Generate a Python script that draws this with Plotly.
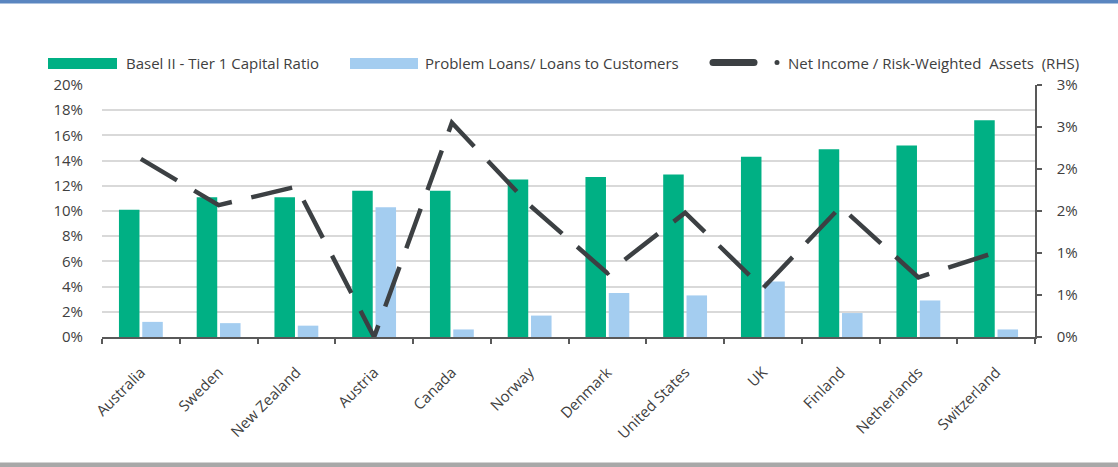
import plotly.graph_objects as go

# ---------------- data ----------------
countries = ["Australia", "Sweden", "New Zealand", "Austria", "Canada", "Norway",
             "Denmark", "United States", "UK", "Finland", "Netherlands", "Switzerland"]
tier1_ratio = [10.1, 11.1, 11.1, 11.6, 11.6, 12.5, 12.7, 12.9, 14.3, 14.9, 15.2, 17.2]
problem_loans = [1.2, 1.1, 0.9, 10.3, 0.6, 1.7, 3.5, 3.3, 4.4, 1.9, 2.9, 0.6]
net_income_rwa = [2.12, 1.57, 1.79, 0.0, 2.55, 1.57, 0.76, 1.48, 0.58, 1.55, 0.71, 1.01]

left_tick_vals = [0, 2, 4, 6, 8, 10, 12, 14, 16, 18, 20]
left_tick_labels = ["0%", "2%", "4%", "6%", "8%", "10%", "12%", "14%", "16%", "18%", "20%"]
right_tick_vals = [0, 0.5, 1, 1.5, 2, 2.5, 3]
right_tick_labels = ["0%", "1%", "1%", "2%", "2%", "3%", "3%"]

series_names = ["Basel II - Tier 1 Capital Ratio",
                "Problem Loans/ Loans to Customers",
                "Net Income / Risk-Weighted  Assets  (RHS)"]

# ---------------- style ----------------
W, H = 1118, 467
ML, MR, MT, MB = 102, 83, 85, 130
PW, PH = W - ML - MR, H - MT - MB
GREEN = "#00B084"
BLUE = "#A4CDF0"
DARK = "#3C4043"
TEXT = "#404040"
FONT = "Open Sans"


def px_x(px):
    return (px - ML) / PW


def px_y(py):
    return (H - MB - py) / PH


fig = go.Figure()
fig.add_trace(go.Bar(x=countries, y=tier1_ratio, name=series_names[0],
                     marker=dict(color=GREEN, line=dict(width=0)), showlegend=False))
fig.add_trace(go.Bar(x=countries, y=problem_loans, name=series_names[1],
                     marker=dict(color=BLUE, line=dict(width=0)), showlegend=False))
fig.add_trace(go.Scatter(x=countries, y=net_income_rwa, name=series_names[2], yaxis="y2",
                         mode="lines", line=dict(color=DARK, width=4.5, dash="42px,20px"),
                         showlegend=False))

shapes = []
# frame bands
shapes.append(dict(type="rect", xref="paper", yref="paper", x0=px_x(0), x1=px_x(W),
                   y0=px_y(3.5), y1=px_y(0), fillcolor="#5A86C0", line=dict(width=0), layer="above"))
shapes.append(dict(type="rect", xref="paper", yref="paper", x0=px_x(0), x1=px_x(W),
                   y0=px_y(H), y1=px_y(462.5), fillcolor="#A8A8A8", line=dict(width=0), layer="above"))
# legend swatches
shapes.append(dict(type="rect", xref="paper", yref="paper", x0=px_x(48), x1=px_x(117),
                   y0=px_y(69), y1=px_y(58), fillcolor=GREEN, line=dict(width=0)))
shapes.append(dict(type="rect", xref="paper", yref="paper", x0=px_x(350), x1=px_x(418),
                   y0=px_y(69), y1=px_y(58), fillcolor=BLUE, line=dict(width=0)))
shapes.append(dict(type="line", xref="paper", yref="paper", x0=px_x(713), x1=px_x(754),
                   y0=px_y(62.5), y1=px_y(62.5), line=dict(color=DARK, width=7)))
for cx, r in [(713, 3.5), (754, 3.5), (777, 2.5)]:
    shapes.append(dict(type="circle", xref="paper", yref="paper",
                       x0=px_x(cx - r), x1=px_x(cx + r), y0=px_y(62.5 + r), y1=px_y(62.5 - r),
                       fillcolor=DARK, line=dict(width=0)))

annotations = []
for name, xpx in zip(series_names, [124, 423, 786]):
    annotations.append(dict(text=name, xref="paper", yref="paper", x=px_x(xpx), y=px_y(63),
                            xanchor="left", yanchor="middle", showarrow=False,
                            font=dict(family=FONT, size=15, color=TEXT)))

fig.update_layout(
    width=W, height=H,
    margin=dict(l=ML, r=MR, t=MT, b=MB, pad=0),
    paper_bgcolor="white", plot_bgcolor="white",
    font=dict(family=FONT, size=15, color=TEXT),
    barmode="group", bargap=0.40, bargroupgap=0.12,
    showlegend=False,
    shapes=shapes, annotations=annotations,
    xaxis=dict(type="category", tickson="boundaries", ticks="outside", ticklen=5,
               tickcolor="#595959", tickwidth=1.5, showline=True, linecolor="#595959",
               linewidth=1.5, tickangle=-45, showgrid=False, ticklabelstandoff=19,
               tickfont=dict(family=FONT, size=15, color=TEXT)),
    yaxis=dict(range=[0, 20], tickvals=left_tick_vals, ticktext=left_tick_labels,
               showgrid=True, gridcolor="#D9D9D9", gridwidth=1.5, zeroline=False,
               showline=False, ticks="", ticklabelstandoff=18,
               tickfont=dict(family=FONT, size=15, color=TEXT)),
    yaxis2=dict(range=[0, 3], tickvals=right_tick_vals, ticktext=right_tick_labels,
                overlaying="y", side="right", showgrid=False, zeroline=False,
                showline=True, linecolor="#595959", linewidth=1.5, ticks="outside",
                ticklen=5, tickcolor="#595959", tickwidth=1.5, ticklabelstandoff=12,
                tickfont=dict(family=FONT, size=15, color=TEXT)),
)

fig.write_html("out.html", config={"displayModeBar": False},
               post_script="document.body.style.margin='0';document.body.style.overflow='hidden';")
